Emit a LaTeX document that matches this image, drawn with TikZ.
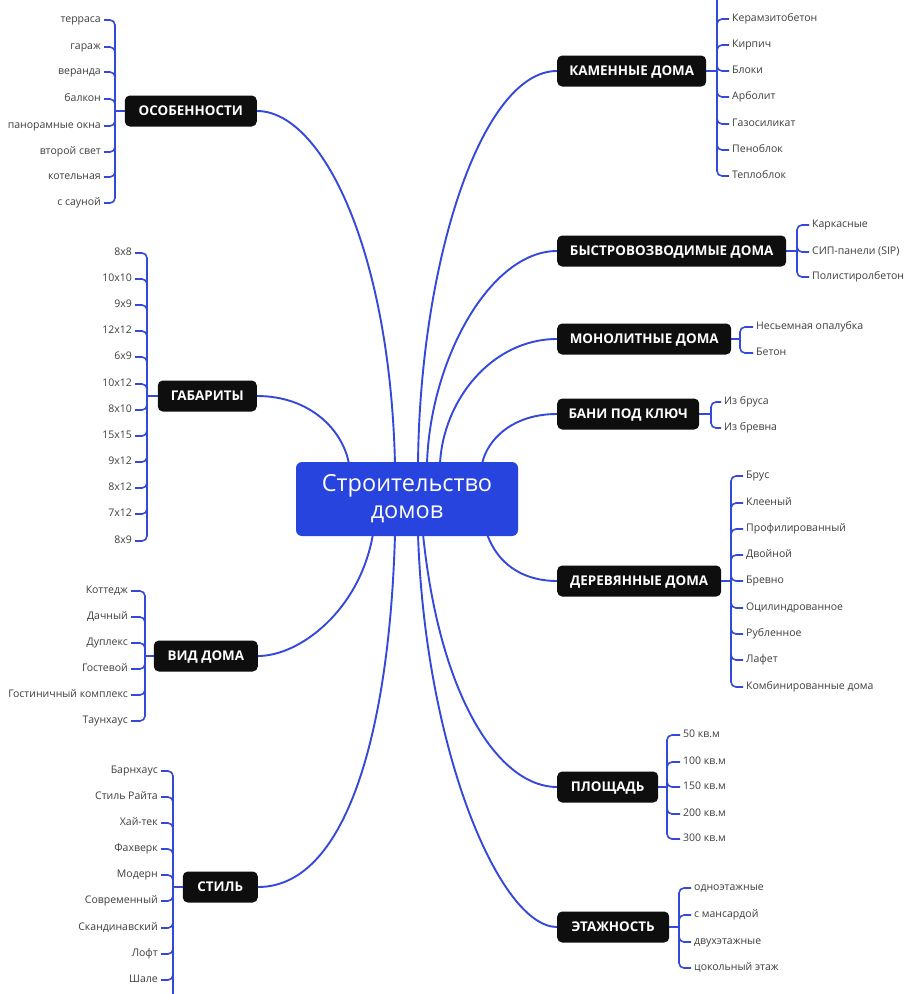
\documentclass[tikz,border=0pt]{standalone}
\usepackage{fontspec}
\setmainfont{Open Sans}
\usetikzlibrary{backgrounds}
\definecolor{lnblue}{RGB}{52,72,220}
\definecolor{cblue}{RGB}{40,68,222}
\definecolor{nblack}{RGB}{14,14,14}
\definecolor{leafgray}{RGB}{62,62,62}
\tikzset{
  x=1pt, y=-1pt,
  conn/.style={draw=lnblue, line width=1.9pt},
  br/.style={draw=lnblue, line width=1.6pt, rounded corners=5pt},
  topic/.style={fill=nblack, text=white, rounded corners=5pt, minimum height=31pt,
     inner xsep=0pt, text height=9.6pt, text depth=0pt,
     font=\fontsize{13.4}{15}\selectfont\bfseries, minimum width=#1},
  topic/.default=100pt,
  leafR/.style={anchor=west, inner xsep=3pt, inner ysep=1pt, text height=7.6pt, text depth=2.6pt,
     text=leafgray, font=\fontsize{10.5}{12}\selectfont},
  leafL/.style={anchor=east, inner xsep=3pt, inner ysep=1pt, text height=7.6pt, text depth=2.6pt,
     text=leafgray, font=\fontsize{10.5}{12}\selectfont},
  centre/.style={fill=cblue, text=white, rounded corners=6pt, minimum width=222pt, minimum height=74pt,
     align=center, font=\fontsize{23.5}{27}\selectfont},
}
\begin{document}
\begin{tikzpicture}
\useasboundingbox (0,0) rectangle (920,994);

% central node
\node[centre] (c) at (407,499) {Строительство\\домов};

% topic nodes
\node[topic=132pt, anchor=east] (os) at (257,111) {ОСОБЕННОСТИ};
\node[topic=99pt,  anchor=east] (gb) at (257,396) {ГАБАРИТЫ};
\node[topic=104pt, anchor=east] (vd) at (258,656) {ВИД ДОМА};
\node[topic=75pt,  anchor=east] (st) at (258,887) {СТИЛЬ};
\node[topic=149pt, anchor=west] (km) at (557,71)  {КАМЕННЫЕ ДОМА};
\node[topic=229pt, anchor=west] (bz) at (557,251) {БЫСТРОВОЗВОДИМЫЕ ДОМА};
\node[topic=174pt, anchor=west] (mn) at (557,339) {МОНОЛИТНЫЕ ДОМА};
\node[topic=142pt, anchor=west] (bn) at (557,414) {БАНИ ПОД КЛЮЧ};
\node[topic=164pt, anchor=west] (dr) at (557,581) {ДЕРЕВЯННЫЕ ДОМА};
\node[topic=101pt, anchor=west] (pl) at (557,787) {ПЛОЩАДЬ};
\node[topic=112pt, anchor=west] (et) at (557,927) {ЭТАЖНОСТЬ};

% attachment points on the central node
\coordinate (t1) at (349,464);
\coordinate (t2) at (395,464);
\coordinate (t3) at (418,464);
\coordinate (t4) at (427,464);
\coordinate (t5) at (440,464);
\coordinate (t6) at (482,464);
\coordinate (b1) at (373,534);
\coordinate (b2) at (395,534);
\coordinate (b3) at (418,534);
\coordinate (b4) at (423,534);
\coordinate (b5) at (487,534);

% junctions
\coordinate (jos) at (115,111);
\coordinate (jgb) at (147,396);
\coordinate (jvd) at (145,656);
\coordinate (jst) at (173,887);
\coordinate (jkm) at (717,71);
\coordinate (jbz) at (797,251);
\coordinate (jmn) at (740,339);
\coordinate (jbn) at (711,414);
\coordinate (jdr) at (731,581);
\coordinate (jpl) at (667,787);
\coordinate (jet) at (679,927);
\coordinate (kmtop) at (717,-6);
\coordinate (stbot) at (173,1000);

% leaves
\foreach \t/\y [count=\i] in {терраса/20, гараж/47, веранда/72, балкон/99, панорамные окна/126, второй свет/152, котельная/177, с сауной/203}
  {\node[leafL] (os\i) at (104,\y) {\t}; \draw[br] (jos) |- (os\i.east);}
\foreach \t/\y [count=\i] in {8x8/253, 10x10/279, 9x9/305, 12x12/331, 6x9/357, 10x12/384, 8x10/410, 15x15/436, 9x12/462, 8x12/488, 7x12/514, 8x9/541}
  {\node[leafL] (gb\i) at (135,\y) {\t}; \draw[br] (jgb) |- (gb\i.east);}
\foreach \t/\y [count=\i] in {Коттедж/591, Дачный/617, Дуплекс/643, Гостевой/669, Гостиничный комплекс/695, Таунхаус/721}
  {\node[leafL] (vd\i) at (131,\y) {\t}; \draw[br] (jvd) |- (vd\i.east);}
\foreach \t/\y [count=\i] in {Барнхаус/771, Стиль Райта/797, Хай-тек/823, Фахверк/849, Модерн/875, Современный/901, Скандинавский/928, Лофт/954, Шале/980}
  {\node[leafL] (st\i) at (161,\y) {\t}; \draw[br] (jst) |- (st\i.east);}
\foreach \t/\y [count=\i] in {Керамзитобетон/19, Кирпич/45, Блоки/71, Арболит/97, Газосиликат/124, Пеноблок/150, Теплоблок/176}
  {\node[leafR] (km\i) at (729,\y) {\t}; \draw[br] (jkm) |- (km\i.west);}
\foreach \t/\y [count=\i] in {Каркасные/225, СИП-панели (SIP)/252, Полистиролбетон/277}
  {\node[leafR] (bz\i) at (809,\y) {\t}; \draw[br] (jbz) |- (bz\i.west);}
\foreach \t/\y [count=\i] in {Несьемная опалубка/327, Бетон/353}
  {\node[leafR] (mn\i) at (753,\y) {\t}; \draw[br] (jmn) |- (mn\i.west);}
\foreach \t/\y [count=\i] in {Из бруса/402, Из бревна/428}
  {\node[leafR] (bn\i) at (721,\y) {\t}; \draw[br] (jbn) |- (bn\i.west);}
\foreach \t/\y [count=\i] in {Брус/476, Клееный/503, Профилированный/529, Двойной/555, Бревно/581, Оцилиндрованное/608, Рубленное/634, Лафет/660, Комбинированные дома/687}
  {\node[leafR] (dr\i) at (743,\y) {\t}; \draw[br] (jdr) |- (dr\i.west);}
\foreach \t/\y [count=\i] in {50 кв.м/735, 100 кв.м/762, 150 кв.м/787, 200 кв.м/814, 300 кв.м/839}
  {\node[leafR] (pl\i) at (680,\y) {\t}; \draw[br] (jpl) |- (pl\i.west);}
\foreach \t/\y [count=\i] in {одноэтажные/888, с мансардой/915, двухэтажные/942, цокольный этаж/968}
  {\node[leafR] (et\i) at (691,\y) {\t}; \draw[br] (jet) |- (et\i.west);}

% stems from topics to junctions
\draw[br] (os.west) -- (jos);
\draw[br] (gb.west) -- (jgb);
\draw[br] (vd.west) -- (jvd);
\draw[br] (st.west) -- (jst);
\draw[br] (jst) -- (stbot);
\draw[br] (km.east) -- (jkm);
\draw[br] (jkm) -- (kmtop);
\draw[br] (bz.east) -- (jbz);
\draw[br] (mn.east) -- (jmn);
\draw[br] (bn.east) -- (jbn);
\draw[br] (dr.east) -- (jdr);
\draw[br] (pl.east) -- (jpl);
\draw[br] (et.east) -- (jet);

% main connectors
\begin{pgfonlayer}{background}
\fill[white] (0,0) rectangle (920,994);
\draw[conn] (os.east) .. controls (322,111) and (390,250) .. (t2);
\draw[conn] (gb.east) .. controls (310,396) and (343,430) .. (t1);
\draw[conn] (km.west) .. controls (482,71) and (420,260) .. (t3);
\draw[conn] (bz.west) .. controls (490,251) and (430,360) .. (t4);
\draw[conn] (mn.west) .. controls (492,339) and (443,400) .. (t5);
\draw[conn] (bn.west) .. controls (512,414) and (487,440) .. (t6);
\draw[conn] (vd.east) .. controls (300,656) and (360,610) .. (b1);
\draw[conn] (st.east) .. controls (350,887) and (390,720) .. (b2);
\draw[conn] (et.west) .. controls (500,927) and (425,750) .. (b3);
\draw[conn] (pl.west) .. controls (500,787) and (440,700) .. (b4);
\draw[conn] (dr.west) .. controls (530,581) and (500,570) .. (b5);
\end{pgfonlayer}
\end{tikzpicture}
\end{document}
